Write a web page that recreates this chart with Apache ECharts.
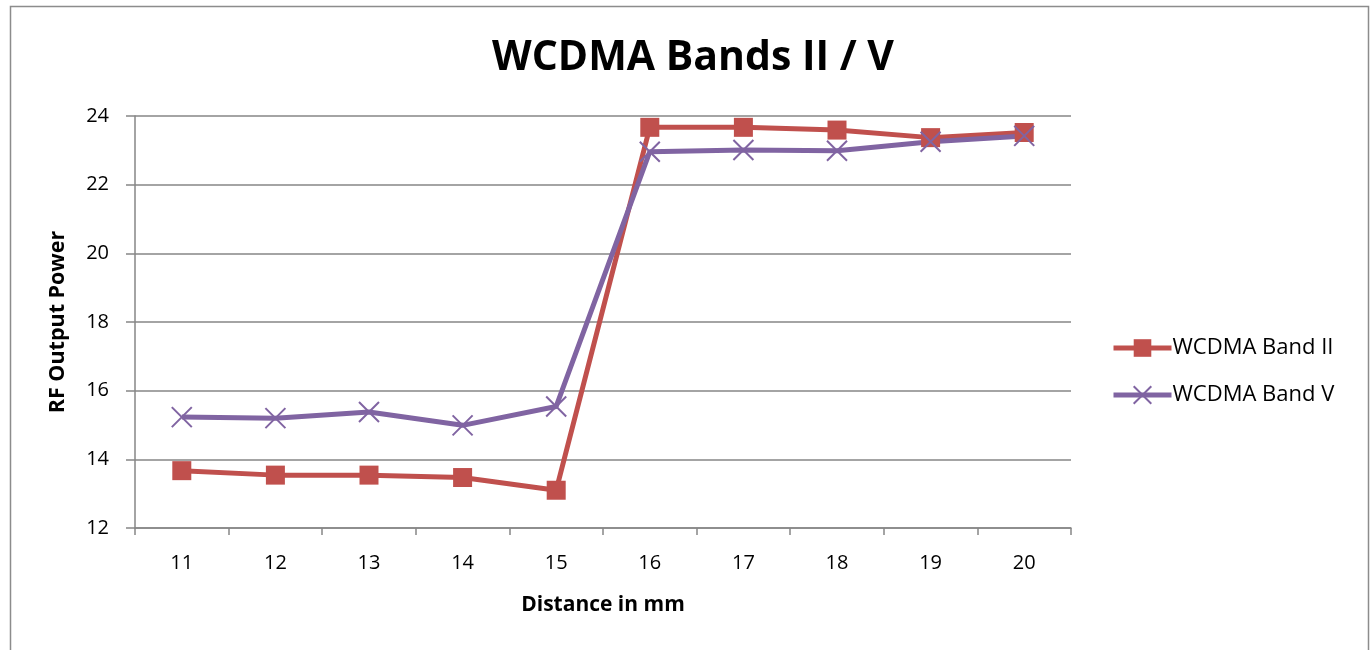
<!DOCTYPE html>
<html>
<head>
<meta charset="utf-8">
<script src="https://cdn.jsdelivr.net/npm/echarts@6/dist/echarts.min.js"></script>
<style>
html,body{margin:0;padding:0;background:#fff;}
#chart{width:1371px;height:650px;}
</style>
</head>
<body>
<div id="chart"></div>
<script>
var categories = ['11','12','13','14','15','16','17','18','19','20'];
var bandII = [13.67, 13.54, 13.54, 13.47, 13.1, 23.67, 23.67, 23.59, 23.37, 23.52];
var bandV = [15.23, 15.2, 15.38, 14.99, 15.54, 22.96, 23.01, 22.99, 23.25, 23.42];
var seriesNames = ['WCDMA Band II', 'WCDMA Band V'];

var FONT = 'Open Sans';
var chart = echarts.init(document.getElementById('chart'));
chart.setOption({
  backgroundColor: '#fff',
  animation: false,
  textStyle: {fontFamily: FONT},
  title: {
    text: 'WCDMA Bands II / V',
    left: 688, top: 33, textAlign: 'center',
    textStyle: {fontFamily: FONT, fontSize: 41, fontWeight: 'bold', color: '#000'}
  },
  graphic: [{
    type: 'rect', left: 8, top: 4, shape: {width: 1358, height: 700},
    style: {fill: 'none', stroke: '#8c8c8c', lineWidth: 1.5}, silent: true
  }],
  grid: {left: 135, right: 300, top: 116, bottom: 122},
  legend: {
    orient: 'vertical', left: 1106, top: 332, itemGap: 25,
    itemWidth: 58, itemHeight: 22,
    textStyle: {fontFamily: FONT, fontSize: 22, color: '#000', padding: [0,0,0,-4]},
    lineStyle: {width: 5},
    data: seriesNames
  },
  xAxis: {
    type: 'category', data: categories, boundaryGap: true,
    name: 'Distance in mm', nameLocation: 'middle', nameGap: 67,
    nameTextStyle: {fontFamily: FONT, fontSize: 21, fontWeight: 'bold', color: '#000'},
    axisLine: {lineStyle: {color: '#868686', width: 1.5}},
    axisTick: {show: true, length: 7, lineStyle: {color: '#868686', width: 1.5}, alignWithLabel: false},
    axisLabel: {fontFamily: FONT, fontSize: 20, color: '#000', margin: 25},
    splitLine: {show: false}
  },
  yAxis: {
    type: 'value', min: 12, max: 24, interval: 2,
    name: 'RF Output Power', nameLocation: 'middle', nameGap: 66, nameRotate: 90,
    nameTextStyle: {fontFamily: FONT, fontSize: 21.5, fontWeight: 'bold', color: '#000'},
    axisLine: {show: true, lineStyle: {color: '#868686', width: 1.5}},
    axisTick: {show: true, length: 9, lineStyle: {color: '#868686', width: 1.5}},
    axisLabel: {fontFamily: FONT, fontSize: 20, color: '#000', margin: 26},
    splitLine: {show: true, lineStyle: {color: '#868686', width: 1.5}}
  },
  series: [{
    name: seriesNames[0], type: 'line', data: bandII,
    symbol: 'rect', symbolSize: 19,
    lineStyle: {color: '#C0504D', width: 5},
    itemStyle: {color: '#C0504D'}
  }, {
    name: seriesNames[1], type: 'line', data: bandV,
    symbol: 'path://M0,0L10,10M10,0L0,10', symbolSize: 20,
    lineStyle: {color: '#8064A2', width: 5},
    itemStyle: {color: 'rgba(0,0,0,0)', borderColor: '#8064A2', borderWidth: 2}
  }]
});
</script>
</body>
</html>
